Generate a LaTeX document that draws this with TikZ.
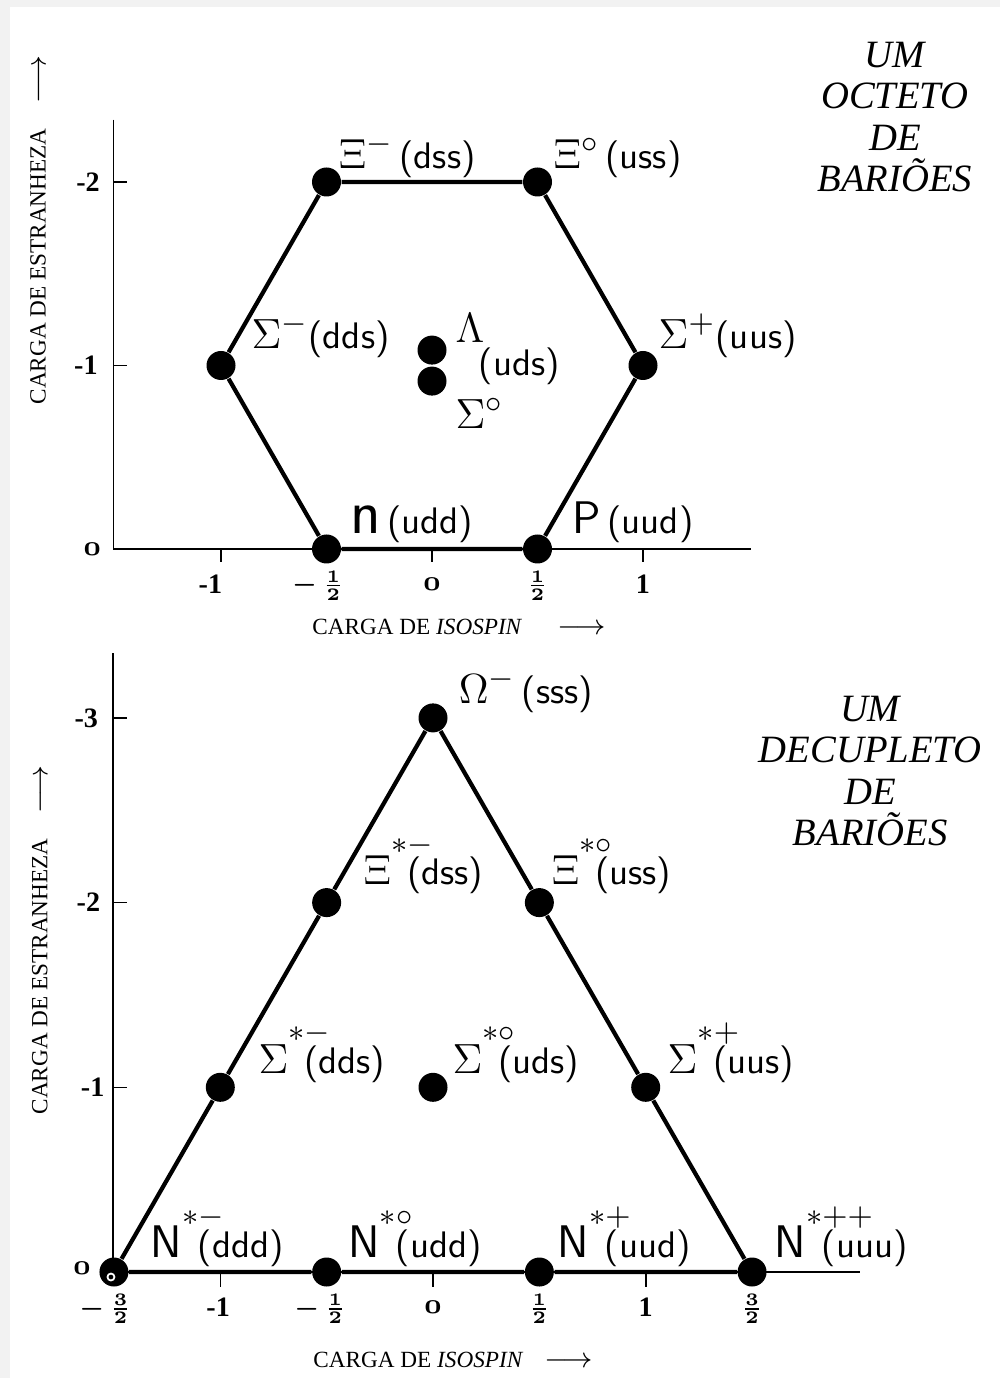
\documentclass[tikz,border=0pt]{standalone}
\usepackage{fontspec}
\usepackage{amsmath}
\usepackage{mathtools}
\setmainfont{Liberation Serif}
\usetikzlibrary{arrows.meta}

\begin{document}
\begin{tikzpicture}
	[%
	dot/.style   ={circle, fill=black, inner sep=0pt, minimum size=2.9mm},%
	edge/.style  ={line width=1.2pt, line join=round},%
	axis/.style  ={line width=0.45pt},%
	lbl/.style   ={inner sep=0pt, anchor=base west, font=\fontsize{10.5}{12}\sffamily},%
	tick/.style  ={inner sep=0pt, font=\fontsize{8}{9}\bfseries},%
	frac/.style  ={inner sep=0pt, font=\fontsize{7}{8}\bfseries},%
	atitle/.style={inner sep=0pt, font=\fontsize{6.6}{8}\selectfont},%
	ttl/.style   ={align=center, font=\fontsize{11}{11.8}\itshape},%
	]

	\newcommand{\gk}[1]{{\fontsize{13}{15}\selectfont$#1$}}
	\newcommand{\excit}[2]{\gk{#1^{\mathrlap{\raisebox{4.5pt}{$\scriptstyle #2$}}}}\hspace{4pt}}
	\newcommand{\zer}{{\boldmath$\mathchar"0130$}}

	% page
	\fill [gray!10] (0,0) rectangle (10,-13.78);
	\fill [white] (0.1,-0.07) rectangle (10,-13.78);
	\useasboundingbox (0,0) rectangle (10,-13.78);

	% ---------- octet ----------
	\begin{scope}[shift={(4.32,-5.49)}, x=2.11cm, y=-1.835cm]
	% axes
	\draw [axis] (-1.51,-2.34) -- (-1.51,0) -- (1.51,0);
	\foreach \s in {-1,-2} \draw [axis] (-1.51,\s) -- ++(0.065,0);
	\foreach \i in {-1,0,1} \draw [axis] (\i,0) -- ++(0,0.07);

	\node (oS2) at (-1.63,-2) [tick] {-2};
	\node (oS1) at (-1.64,-1) [tick] {-1};
	\node (oS0) at (-1.61,0)  [tick] {\zer};
	\node (oIm1) at (-1.05,0.19) [tick] {-1};
	\node (oImh) at (-0.54,0.2)  [frac] {$\boldsymbol{-\,\frac{1}{2}}$};
	\node (oI0)  at (0,0.19)     [tick] {\zer};
	\node (oIh)  at (0.5,0.2)    [frac] {$\boldsymbol{\frac{1}{2}}$};
	\node (oI1)  at (1,0.19)     [tick] {1};

	\node (oiso) at (0.128,0.425) [atitle] {CARGA DE \textit{ISOSPIN}\hspace{10pt}{\footnotesize$\longrightarrow$}};
	\node (ostr) at (-1.867,-1.738) [atitle, rotate=90] {CARGA DE ESTRANHEZA\hspace{7pt}{\footnotesize$\longrightarrow$}};

	\node (otitle) at (2.194,-2.354) [ttl] {UM\\OCTETO\\DE\\BARIÕES};

	% particles
	\node (n)  at (-0.5,0)  [dot] {};
	\node (p)  at (0.5,0)   [dot] {};
	\node (Sp) at (1,-1)    [dot] {};
	\node (X0) at (0.5,-2)  [dot] {};
	\node (Xm) at (-0.5,-2) [dot] {};
	\node (Sm) at (-1,-1)   [dot] {};
	\node (L)  at (0,-1.084) [dot] {};
	\node (S0) at (0,-0.915) [dot] {};

	\draw [edge] (n) -- (p) -- (Sp) -- (X0) -- (Xm) -- (Sm) -- (n);

	\node (lXm) at (-0.445,-2.076) [lbl] {\gk{\Xi^{-}}\,(dss)};
	\node (lX0) at (0.573,-2.076)  [lbl] {\gk{\Xi^{\circ}}\,(uss)};
	\node (lSm) at (-0.858,-1.095) [lbl] {\gk{\Sigma^{-}}(dds)};
	\node (lSp) at (1.071,-1.095)  [lbl] {\gk{\Sigma^{+}}(uus)};
	\node (ln)  at (-0.389,-0.087) [lbl] {{\fontsize{18}{18}\selectfont n}\,(udd)};
	\node (lp)  at (0.664,-0.087)  [lbl] {\gk{\mathsf{P}}\,(uud)};
	\node (lL)  at (0.109,-1.123)  [lbl] {\gk{\Lambda}};
	\node (luds) at (0.218,-0.948) [lbl] {(uds)};
	\node (lS0) at (0.109,-0.659)  [lbl] {\gk{\Sigma^{\circ}}};
	\end{scope}

	% ---------- decuplet ----------
	\begin{scope}[shift={(4.33,-12.72)}, x=2.127cm, y=-1.847cm]
	% axes
	\draw [axis] (-1.504,-3.35) -- (-1.504,0) -- (2.007,0);
	\foreach \s in {-1,-2,-3} \draw [axis] (-1.504,\s) -- ++(0.065,0);
	\foreach \i in {-1,0,1} \draw [axis] (\i,0) -- ++(0,0.08);

	\node (dS3) at (-1.63,-3) [tick] {-3};
	\node (dS2) at (-1.62,-2) [tick] {-2};
	\node (dS1) at (-1.60,-1) [tick] {-1};
	\node (dS0) at (-1.65,-0.02) [tick] {\zer};
	\node (dIm3) at (-1.54,0.2)  [frac] {$\boldsymbol{-\,\frac{3}{2}}$};
	\node (dIm1) at (-1.01,0.19) [tick] {-1};
	\node (dImh) at (-0.53,0.2)  [frac] {$\boldsymbol{-\,\frac{1}{2}}$};
	\node (dI0)  at (0,0.19)     [tick] {\zer};
	\node (dIh)  at (0.5,0.2)    [frac] {$\boldsymbol{\frac{1}{2}}$};
	\node (dI1)  at (1,0.19)     [tick] {1};
	\node (dI3)  at (1.5,0.2)    [frac] {$\boldsymbol{\frac{3}{2}}$};

	\node (diso) at (0.094,0.476) [atitle] {CARGA DE \textit{ISOSPIN}\hspace{6pt}{\footnotesize$\longrightarrow$}};
	\node (dstr) at (-1.848,-1.797) [atitle, rotate=90] {CARGA DE ESTRANHEZA\hspace{7pt}{\footnotesize$\longrightarrow$}};

	\node (dtitle) at (2.055,-2.712) [ttl] {UM\\DECUPLETO\\DE\\BARIÕES};

	% particles
	\node (Nm)  at (-1.5,0)  [dot] {};
	\node (N0)  at (-0.5,0)  [dot] {};
	\node (Np)  at (0.5,0)   [dot] {};
	\node (Npp) at (1.5,0)   [dot] {};
	\node (Ssm) at (-1,-1)   [dot] {};
	\node (Ss0) at (0,-1)    [dot] {};
	\node (Ssp) at (1,-1)    [dot] {};
	\node (Xsm) at (-0.5,-2) [dot] {};
	\node (Xs0) at (0.5,-2)  [dot] {};
	\node (Om)  at (0,-3)    [dot] {};

	\draw [edge] (Nm) -- (N0) -- (Np) -- (Npp) -- (Ssp) -- (Xs0) -- (Om) -- (Xsm) -- (Ssm) -- (Nm);
	\draw [white, line width=0.5pt] ([shift={(-0.03cm,-0.05cm)}]Nm.center) circle (0.035cm);

	\node (lOm)  at (0.118,-3.08)  [lbl] {\gk{\Omega^{-}}\,(sss)};
	\node (lXsm) at (-0.329,-2.10) [lbl] {\excit{\Xi}{*-}(dss)};
	\node (lXs0) at (0.555,-2.10)  [lbl] {\excit{\Xi}{*\circ}(uss)};
	\node (lSsm) at (-0.823,-1.077) [lbl] {\excit{\Sigma}{*-}(dds)};
	\node (lSs0) at (0.089,-1.077)  [lbl] {\excit{\Sigma}{*\circ}(uds)};
	\node (lSsp) at (1.100,-1.077)  [lbl] {\excit{\Sigma}{*+}(uus)};
	\node (lNm)  at (-1.330,-0.081) [lbl] {\excit{\mathsf{N}}{*-}(ddd)};
	\node (lN0)  at (-0.400,-0.081) [lbl] {\excit{\mathsf{N}}{*\circ}(udd)};
	\node (lNp)  at (0.583,-0.081)  [lbl] {\excit{\mathsf{N}}{*+}(uud)};
	\node (lNpp) at (1.603,-0.081)  [lbl] {\excit{\mathsf{N}}{*++}(uuu)};
	\end{scope}

\end{tikzpicture}
\end{document}
